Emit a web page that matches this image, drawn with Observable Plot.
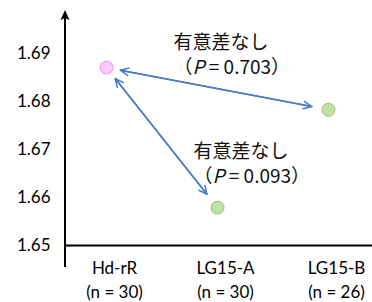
<!DOCTYPE html>
<html><head><meta charset="utf-8">
<script src="https://cdn.jsdelivr.net/npm/d3@7"></script>
<script src="https://cdn.jsdelivr.net/npm/@observablehq/plot@0.6"></script>
<style>body{margin:0;background:#fff;} svg{display:block;}</style>
</head><body><div id="chart"></div>
<script>
const strains = ["Hd-rR", "LG15-A", "LG15-B"];
const sampleSizes = [30, 30, 26];
const means = [1.6871, 1.6579, 1.6783];
const yTicks = [1.65, 1.66, 1.67, 1.68, 1.69];
const yDomain = [1.65, 1.699];
const comparisons = [["Hd-rR", "LG15-B"], ["Hd-rR", "LG15-A"]];
const noteHeads = ["有意差なし", "有意差なし"];
const pValues = ["0.703", "0.093"];

const rows = strains.map((s, i) => ({strain: s, n: sampleSizes[i], mean: means[i]}));
const byStrain = new Map(rows.map(d => [d.strain, d]));
const pairs = comparisons.map(([a, b], i) => ({
  a, b, ya: byStrain.get(a).mean, yb: byStrain.get(b).mean,
  head: noteHeads[i], p: `（P = ${pValues[i]}）`
}));

const blue = "#4a7cc7";
const jp = "'Noto Sans CJK JP', sans-serif";
const lat = "Lato, 'Open Sans', sans-serif";

function yAxisLine(index, scales, values, dims) {
  const x0 = dims.marginLeft;
  const top = dims.marginTop;
  const bottom = dims.height - dims.marginBottom + 22;
  const g = d3.create("svg:g");
  g.append("line").attr("x1", x0).attr("x2", x0).attr("y1", top + 6).attr("y2", bottom)
    .attr("stroke", "black").attr("stroke-width", 2);
  g.append("path").attr("d", `M${x0},${top}L${x0 + 4.5},${top + 10}L${x0},${top + 8}L${x0 - 4.5},${top + 10}Z`)
    .attr("fill", "black");
  return g.node();
}

const chart = Plot.plot({
  width: 372, height: 302,
  marginLeft: 65, marginRight: 0, marginTop: 10, marginBottom: 57,
  style: {background: "#fff", color: "black"},
  x: {type: "point", domain: strains, range: [105, 328], padding: 0, axis: null},
  y: {domain: yDomain},
  marks: [
    Plot.axisY(yTicks, {tickSize: 0, tickPadding: 15, tickFormat: d3.format(".2f"), fontSize: 17, fontFamily: lat, label: null}),
    Plot.ruleY([yDomain[0]], {stroke: "black", strokeWidth: 2}),
    yAxisLine,
    Plot.text(rows, {x: "strain", frameAnchor: "bottom", text: d => `${d.strain}\n(n = ${d.n})`,
      lineAnchor: "middle", dy: 33, dx: 8, lineHeight: 1.38, fontSize: 17, fontFamily: lat, fill: "black"}),
    Plot.arrow(pairs, {x1: "a", y1: "ya", x2: "b", y2: "yb", stroke: blue, strokeWidth: 1.5,
      insetStart: 14, insetEnd: 17, headLength: 9, headAngle: 50}),
    Plot.arrow(pairs, {x1: "b", y1: "yb", x2: "a", y2: "ya", stroke: blue, strokeWidth: 1.5,
      insetStart: 17, insetEnd: 14, headLength: 9, headAngle: 50}),
    Plot.dot(rows, {x: "strain", y: "mean", r: 6.5, strokeWidth: 1,
      fill: d => d.strain === "Hd-rR" ? "#fcc8fc" : "#c3dfa6",
      stroke: d => d.strain === "Hd-rR" ? "#f48ef4" : "#9cc26e"}),
    Plot.text([pairs[0]], {x: "a", y: "ya", text: "head", textAnchor: "start", dx: 67, dy: -25, fontSize: 19, fontFamily: jp, fill: "#111"}),
    Plot.text([pairs[0]], {x: "a", y: "ya", text: "p", textAnchor: "start", dx: 67, dy: 0, fontSize: 19, fontFamily: jp, fill: "#111"}),
    Plot.text([pairs[1]], {x: "b", y: "yb", text: "head", textAnchor: "start", dx: -24, dy: -56, fontSize: 19, fontFamily: jp, fill: "#111"}),
    Plot.text([pairs[1]], {x: "b", y: "yb", text: "p", textAnchor: "start", dx: -24, dy: -31, fontSize: 19, fontFamily: jp, fill: "#111"})
  ]
});

d3.select(chart).selectAll("text").each(function() {
  const t = this.textContent;
  if (t.startsWith("（P")) {
    const sel = d3.select(this);
    sel.text(null);
    sel.append("tspan").text("（");
    sel.append("tspan").attr("font-style", "italic").text("P");
    sel.append("tspan").text(t.slice(2));
  }
});

document.getElementById("chart").appendChild(chart);
</script>
</body></html>
